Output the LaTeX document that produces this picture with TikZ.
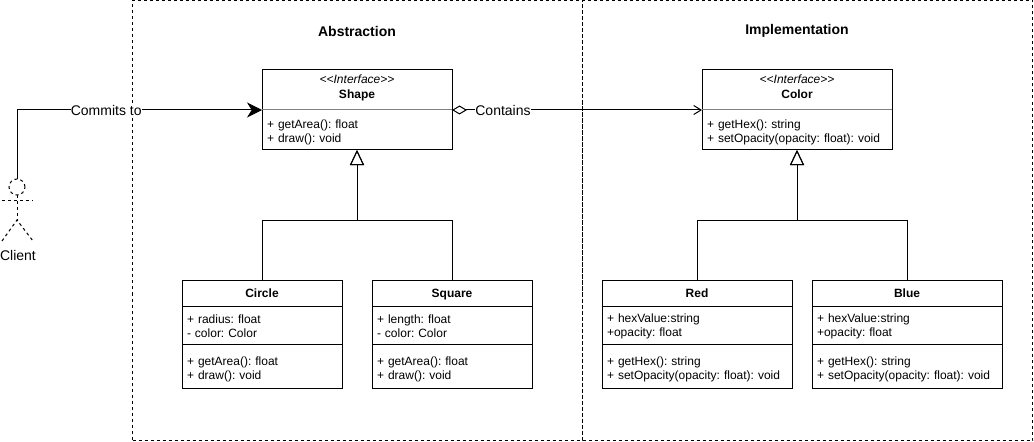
\documentclass[tikz,border=0pt]{standalone}
\usepackage{fontspec}
\setmainfont{Liberation Sans}
\frenchspacing
\usetikzlibrary{arrows.meta,positioning}
\tikzset{
  >=Latex,
  every node/.style = {font=\fontsize{9}{10.5}\selectfont\frenchspacing, inner sep=0pt, outer sep=0pt},
  panel/.style   = {draw, line width=0.75pt, dash pattern=on 2.25pt off 2.25pt, minimum width=337.5pt, minimum height=330pt},
  paneltitle/.style = {font=\fontsize{10.5}{12}\selectfont\bfseries},
  ifacehead/.style = {draw, line width=0.75pt, minimum width=142.5pt, minimum height=30pt, align=center,
    font=\fontsize{9}{11.25}\selectfont\frenchspacing, execute at end node=\rule[-5pt]{0pt}{5pt}},
  ifacebody/.style = {draw, line width=0.75pt, minimum height=30pt, inner xsep=3.75pt, text width=135pt, align=left,
    execute at begin node=\rule{0pt}{10.5pt}},
  classhead/.style = {draw, line width=0.75pt, minimum height=19.5pt, text height=8pt, text depth=1.9pt, font=\fontsize{9}{10.5}\selectfont\bfseries},
  attrs/.style   = {draw, line width=0.75pt, minimum height=28.5pt, inner xsep=3.75pt, align=left,
    execute at begin node=\rule{0pt}{9pt}},
  meths/.style   = {draw, line width=0.75pt, minimum height=33pt, inner xsep=3.75pt, align=left,
    execute at begin node=\rule{0pt}{11pt}},
  conn/.style    = {line width=0.75pt},
  extends/.style = {conn, -{Triangle[open,length=11.25pt,width=10.5pt]}},
  commits/.style = {conn, -{Stealth[length=11.25pt,width=11.25pt,inset=3.5pt]}},
  contains/.style = {conn, {Diamond[open,length=11.25pt,width=6.75pt]}-{Straight Barb[length=5.5pt,width=6.75pt]}},
  edgelabel/.style = {fill=white, font=\fontsize{10.5}{12}\selectfont},
  actor/.style   = {line width=0.75pt, dash pattern=on 2.25pt off 2.25pt}
}

\begin{document}
\begin{tikzpicture}[x=0.75pt, y=-0.75pt]  % one unit is one pixel of the reference
  \useasboundingbox (0,0) rectangle (1034,442);

  %  --  Dashed panels and their titles
  \node[panel] (abstraction) at (357.5,220.5) {};
  \node[panel] (implementation) at (807.5,220.5) {};
  \node[paneltitle] (abstractiontitle) at (357,31) {Abstraction};
  \node[paneltitle] (implementationtitle) at (797,31) {Implementation};

  %  --  The two interfaces
  \foreach \nm/\xx/\ttl/\meth in {
    shape/357/Shape/{+ getArea(): float\\+ draw(): void},
    color/797/Color/{+ getHex(): string\\+ setOpacity(opacity: float): void}}{
    \node[ifacehead] (\nm head) at (\xx,90) {\textit{\textless\kern0pt\textless Interface\textgreater\kern0pt\textgreater}\\\textbf{\ttl}};
    \node[ifacebody, below=0pt of \nm head] (\nm body) {\meth};
    \draw[conn, gray] (\nm head.south west) -- (\nm head.south east);
  }

  %  --  The concrete classes below them
  \foreach \nm/\xx/\boxw/\ttl/\attr/\meth in {
    circle/262/120/Circle/{+ radius: float\\- color: Color}/{+ getArea(): float\\+ draw(): void},
    square/452/120/Square/{+ length: float\\- color: Color}/{+ getArea(): float\\+ draw(): void},
    red/697/142.5/Red/{+ hexValue:string\\+opacity: float}/{+ getHex(): string\\+ setOpacity(opacity: float): void},
    blue/907/142.5/Blue/{+ hexValue:string\\+opacity: float}/{+ getHex(): string\\+ setOpacity(opacity: float): void}}{
    \node[classhead, minimum width=\boxw pt] (\nm head) at (\xx,293) {\ttl};
    \node[attrs, text width=\boxw pt-7.5pt, below=0pt of \nm head] (\nm attrs) {\attr};
    \node[meths, text width=\boxw pt-7.5pt, below=0pt of \nm attrs] (\nm meths) {\meth};
  }

  %  --  Inheritance
  \coordinate (shapefork) at (357,220);
  \coordinate (colorfork) at (797,220);
  \draw[extends] (circlehead.north) |- (shapefork) -- (shapebody.south);
  \draw[extends] (squarehead.north) |- (shapefork) -- (shapebody.south);
  \draw[extends] (redhead.north) |- (colorfork) -- (colorbody.south);
  \draw[extends] (bluehead.north) |- (colorfork) -- (colorbody.south);

  %  --  The client
  \node[circle, draw, actor, minimum size=12pt] (clienthd) at (17,187) {};
  \coordinate (hip) at (17,220);
  \coordinate (armleft) at (2,200);
  \coordinate (armright) at (33,200);
  \coordinate (footleft) at (2,241);
  \coordinate (footright) at (33,241);
  \draw[actor] (clienthd.south) -- (hip);
  \draw[actor] (armleft) -- (armright);
  \draw[actor] (footleft) -- (hip) -- (footright);
  \node[edgelabel] (client) at (18,255) {Client};

  %  --  Associations
  \draw[commits] (clienthd.north) |- (shapehead.south west)
    node[edgelabel, pos=0.682] (commitsto) {Commits to};
  \draw[contains] (shapehead.south east) -- (colorhead.south west)
    node[edgelabel, pos=0.204] (containslabel) {Contains};
\end{tikzpicture}
\end{document}
